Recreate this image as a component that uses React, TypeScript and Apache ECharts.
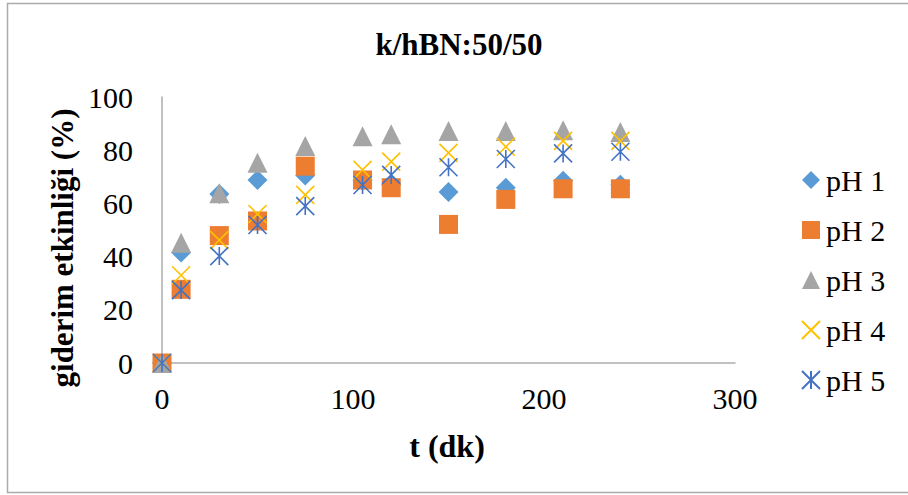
import React, { useEffect, useRef } from "react";
import * as echarts from "echarts";

const times = [0, 10, 30, 50, 75, 105, 120, 150, 180, 210, 240];
const seriesNames = ["pH 1", "pH 2", "pH 3", "pH 4", "pH 5"];
const pH1 = [0, 41.5, 63.5, 68.8, 70.5, 68.5, 67, 64.3, 65.9, 68.5, 67];
const pH2 = [0, 27.7, 47.9, 53.4, 74, 68.8, 65.9, 52.1, 61.5, 65.5, 65.5];
const pH3 = [0, 45.2, 63.8, 75.3, 81.6, 85.2, 86, 87.2, 87.2, 87.5, 86.8];
const pH4 = [0, 33, 46.2, 56, 63.2, 72.6, 75.7, 79, 81.3, 83.5, 83.5];
const pH5 = [0, 27.4, 40.2, 51.9, 59, 66.9, 70.7, 73.6, 76.7, 78.8, 79.4];
const xTicks = [0, 100, 200, 300];
const yTicks = [0, 20, 40, 60, 80, 100];

const FONT = "'Liberation Serif', 'Times New Roman', serif";

export default function App() {
  const ref = useRef<HTMLDivElement>(null);
  useEffect(() => {
    if (!ref.current) return;
    const chart = echarts.init(ref.current, undefined, { renderer: "svg" });
    const allValues = [pH1, pH2, pH3, pH4, pH5];
    const symbols = [
      "diamond",
      "rect",
      "triangle",
      "path://M0,0L10,10M10,0L0,10",
      "path://M0,0L10,10M10,0L0,10M5,0L5,10",
    ];
    const sizes = [20, 19, 20, 18, 18];
    const colors = ["#5B9BD5", "#ED7D31", "#A5A5A5", "#FFC000", "#4472C4"];
    const series = allValues.map((vals, i) => ({
      type: "scatter",
      name: seriesNames[i],
      data: times.map((t, j) => [t, vals[j]]),
      symbol: symbols[i],
      symbolSize: sizes[i],
      itemStyle:
        i >= 3
          ? { color: colors[i], borderColor: colors[i], borderWidth: 1.6, opacity: 1 }
          : { color: colors[i], opacity: 1 },
    }));
    chart.setOption({
      animation: false,
      color: colors,
      textStyle: { fontFamily: FONT },
      grid: { left: 162, right: 173, top: 97, bottom: 132 },
      xAxis: {
        type: "value",
        min: xTicks[0],
        max: xTicks[xTicks.length - 1],
        interval: 100,
        axisLine: { show: true, lineStyle: { color: "#ADADAD", width: 1.5 } },
        axisTick: { show: false },
        splitLine: { show: false },
        axisLabel: { fontSize: 30, color: "#000", fontFamily: FONT, margin: 20 },
      },
      yAxis: {
        type: "value",
        min: yTicks[0],
        max: yTicks[yTicks.length - 1],
        interval: 20,
        axisLine: { show: true, lineStyle: { color: "#ADADAD", width: 1.5 } },
        axisTick: { show: false },
        splitLine: { show: false },
        axisLabel: { fontSize: 30, color: "#000", fontFamily: FONT, margin: 29 },
      },
      legend: {
        orient: "vertical",
        left: 796,
        top: 160,
        itemWidth: 18,
        itemHeight: 18,
        itemGap: 20,
        data: seriesNames,
        textStyle: {
          fontSize: 30,
          color: "#000",
          fontFamily: FONT,
          lineHeight: 30,
          padding: [0, 0, 0, 1],
        },
      },
      graphic: [
        {
          type: "rect",
          shape: { x: 7.5, y: 3.5, width: 920, height: 489 },
          style: { fill: "none", stroke: "#ABABAB", lineWidth: 1.5 },
          silent: true,
        },
        {
          type: "text",
          x: 459,
          y: 44,
          style: {
            text: "k/hBN:50/50",
            font: `bold 31px ${FONT}`,
            fill: "#000",
            align: "center",
            verticalAlign: "middle",
          },
        },
        {
          type: "text",
          x: 447,
          y: 446,
          style: {
            text: "t (dk)",
            font: `bold 32px ${FONT}`,
            fill: "#000",
            align: "center",
            verticalAlign: "middle",
          },
        },
        {
          type: "text",
          x: 62,
          y: 248,
          rotation: Math.PI / 2,
          style: {
            text: "giderim etkinliği (%)",
            font: `bold 31px ${FONT}`,
            fill: "#000",
            align: "center",
            verticalAlign: "middle",
          },
        },
      ],
      series,
    });
    return () => chart.dispose();
  }, []);
  return (
    <div
      ref={ref}
      style={{ position: "absolute", left: 0, top: 0, width: 908, height: 495, background: "#fff" }}
    />
  );
}
